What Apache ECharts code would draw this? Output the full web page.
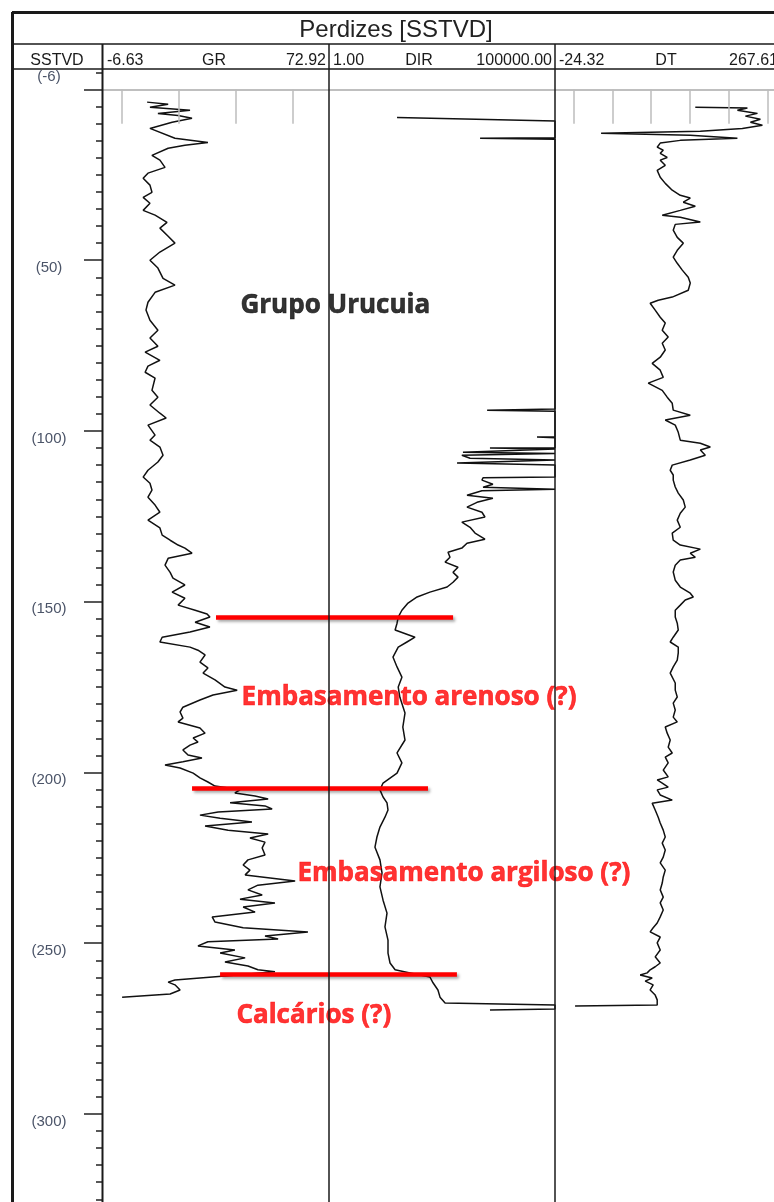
<!DOCTYPE html>
<html><head><meta charset="utf-8">
<script src="https://cdn.jsdelivr.net/npm/echarts@6/dist/echarts.min.js"></script>
<style>html,body{margin:0;padding:0;background:#fff}#c{width:774px;height:1202px}</style>
</head><body><div id="c"></div>
<script>
// ---------------- data ----------------
const depthMajorTicks = [0, 50, 100, 150, 200, 250, 300];
const depthLabels = [-6, 50, 100, 150, 200, 250, 300];
const depthMinorTicks = [-5,5,10,15,20,25,30,35,40,45,55,60,65,70,75,80,85,90,95,105,110,115,120,125,130,135,140,145,155,160,165,170,175,180,185,190,195,205,210,215,220,225,230,235,240,245,255,260,265,270,275,280,285,290,295,305,310,315,320,325];
const trackNames = ['GR', 'DIR', 'DT'];
const trackMin = [-6.63, 1, -24.32];
const trackMax = [72.92, 100000, 267.61];
const grGrid = [0, 20, 40, 60];
const dtGrid = [0, 50, 100, 150, 200, 250];

// [depth, GR]
const grLog = [[3.7,8.9],[4.3,16.3],[5.2,9.9],[6.1,24.0],[7.0,12.7],[7.6,19.8],[8.4,24.7],[9.6,17.7],[11.4,9.9],[14.3,18.7],[15.5,30.3],[16.3,22.2],[17.2,16.3],[19.3,10.6],[20.7,13.4],[22.8,15.2],[24.5,9.2],[26.0,7.5],[28.0,9.9],[30.1,10.6],[31.6,7.5],[33.3,9.9],[35.4,7.5],[36.8,11.7],[38.9,15.9],[40.6,13.4],[43.0,16.3],[45.0,18.7],[47.6,13.4],[50.0,9.9],[52.3,12.7],[55.3,14.5],[57.3,18.7],[59.4,11.7],[62.3,9.2],[64.6,8.5],[67.6,9.9],[70.5,12.7],[72.8,9.9],[75.2,12.7],[76.9,8.2],[79.3,13.4],[81.0,9.2],[82.8,8.2],[84.5,11.7],
[88.1,10.6],[90.1,12.7],[92.4,9.9],[94.8,13.4],[96.2,15.6],[98.3,9.2],[101.2,11.7],[102.7,9.9],[104.7,13.4],[107.1,14.5],[109.1,12.7],[111.5,9.2],[113.5,7.5],[115.3,9.9],[117.3,10.6],[119.4,9.2],[121.7,11.7],[123.8,13.4],[126.1,9.2],[128.4,13.4],[130.5,14.2],[132.0,17.0],[133.4,19.8],[134.3,22.2],[135.8,24.7],[137.3,16.3],[139.3,15.2],[141.4,17.0],[143.1,18.0],[145.1,22.2],[147.2,17.7],[149.0,22.2],[151.0,19.8],[152.5,25.8],[153.6,30.0],[154.5,31.0],[156.0,25.8],[157.4,31.0],[158.9,24.0],[160.4,14.2],[161.8,13.4],[163.3,24.0],[164.2,26.8],[165.6,29.3],[167.7,27.5],[169.4,30.3],[170.9,28.6],[172.9,32.8],[175.0,36.3],[175.9,40.6],
[177.3,32.1],[178.8,27.5],[180.9,21.5],[182.3,20.5],[184.1,21.5],[185.2,19.8],[187.0,27.5],[188.5,29.3],[189.9,25.1],[191.1,26.8],[192.0,24.0],[193.4,21.5],[194.9,23.3],[195.8,28.2],[196.9,21.5],[197.8,15.2],[198.7,20.5],[200.2,25.1],[201.6,27.5],[202.8,30.3],[204.0,32.8],[205.1,41.6],[206.0,39.8],[206.9,46.9],[207.8,51.5],[208.9,38.1],[209.8,50.4],[210.7,52.9],[211.6,33.9],[212.5,27.5],[213.4,34.6],[214.5,45.8],[215.7,29.3],[216.9,37.4],[218.0,51.5],[219.2,45.1],[220.4,50.4],[222.1,49.4],[224.2,50.4],[225.6,44.4],[227.1,42.7],[228.6,45.1],[230.0,43.4],[230.9,52.2],[231.8,61.0],[233.0,47.9],[234.4,44.4],[235.9,49.4],[237.1,41.6],[238.2,53.9],[239.4,42.7],[240.9,46.9],[242.3,31.8],[243.8,32.8],[245.5,42.7],[246.7,65.5],[247.9,50.4],[248.8,55.0],[249.6,30.3],[250.8,26.8],[252.0,39.8],[252.9,34.6],[254.3,43.4],[255.5,36.3],[256.7,44.4],[257.8,47.9],[258.4,53.9],[259.6,36.3],[260.8,18.7],[261.4,16.3],[262.2,18.7],[263.7,20.5],[264.9,17.0],[265.8,0.1]];

// [depth, DIR]
const dirLog = [[8.2,32],[9.2,100000],[14.1,100000],[14.3,2200],[14.6,100000],[93.6,100000],[93.9,3150],[94.2,100000],[101.7,100000],[101.8,40000],[102.0,100000],[104.9,100000],[105.0,3640],[105.3,100000],[106.2,920],[106.6,100000],[107.1,870],[108.0,1320],[108.5,100000],[109.4,680],[110.0,100000],[113.5,100000],[113.7,2560],[114.4,2420],[115.6,4230],[116.5,2560],[117.1,100000],[117.5,2420],[118.8,1130],[119.7,4230],[120.9,1880],[122.3,1130],[123.8,2420],[125.2,2820],[126.7,870],[128.2,1320],[129.9,1700],[131.7,2820],[132.9,1130],[134.3,870],[135.5,430],[137.0,475],[138.4,370],[139.9,715],[141.4,555],[142.8,715],[144.3,555],[145.7,410],[147.2,171],[148.6,89],[150.4,56],[152.5,41],[154.5,34],[156.3,32],[158.3,29],[160.4,80],[161.8,53],[163.3,34],[166.2,26],[169.1,32],[172.1,41],[175.0,34],[178.0,37],[182.6,48],[186.7,43],[190.5,48],[194.3,32],[197.2,41],[200.2,32],[203.1,15.7],[205.1,13.4],[207.2,15.7],[208.9,19.2],[211.0,20.2],[213.1,17.3],[216.0,13.4],[218.9,11.5],[221.9,10.4],[225.6,13.4],[229.4,14.9],[233.5,13.4],[237.4,15.7],[241.2,19.2],[245.2,17.3],[249.1,20.2],[252.9,20.2],[255.8,22.4],[257.8,29],[258.7,62],[259.9,171],[261.6,200],[263.7,257],[265.8,286],[267.5,370],[268.1,100000],[269.3,100000],[269.6,3640]];

// [depth, DT]
const dtLog = [[5.2,156.9],[5.4,224.2],[6.1,211.3],[7.0,237.2],[7.8,221.6],[8.7,241.0],[9.6,228.1],[10.5,243.6],[11.4,217.7],[12.2,163.4],[12.8,35.2],[13.4,150.4],[14.3,211.3],[14.9,137.5],[15.7,111.6],[16.9,107.7],[17.8,115.5],[18.7,111.6],[19.9,120.6],[20.7,111.6],[22.2,118.1],[23.7,107.7],[25.7,111.6],[27.5,118.1],[29.5,127.1],[31.0,137.5],[31.8,150.4],[33.0,141.4],[34.2,156.9],[35.4,137.5],[36.8,114.2],[37.4,137.5],[38.8,163.4],[39.5,131.0],[41.2,128.4],[43.3,133.6],[45.0,141.4],[47.1,133.6],[49.1,128.4],[50.9,133.6],[52.9,140.1],[55.0,147.8],[56.7,150.4],[58.8,147.8],[60.8,127.1],[61.7,109.0],[62.6,98.6],[64.6,105.1],[66.7,111.6],[68.4,118.1],[70.5,114.2],[72.5,121.9],[74.3,114.2],[76.3,118.1],[78.4,111.6],[80.2,101.2],[82.2,111.6],[84.3,115.5],[86.0,96.1],[88.1,114.2],[90.1,120.6],[91.9,127.1],[93.9,128.4],[95.4,150.4],[96.8,118.1],[98.3,131.0],[100.4,134.9],[102.7,137.5],[103.6,163.4],[104.7,176.3],[105.6,163.4],[107.1,169.8],[108.5,150.4],[110.0,127.1],[111.5,124.5],[112.9,128.4],[114.4,128.4],[116.4,131.0],[118.2,134.9],[120.2,141.4],[122.3,143.9],[124.1,137.5],[126.1,133.6],[128.2,137.5],[129.9,127.1],[132.0,128.4],[133.4,137.5],[134.6,163.4],[135.8,150.4],[137.0,156.9],[137.8,137.5],[139.3,131.0],[141.3,128.4],[143.7,131.0],[145.7,137.5],[147.5,150.4],[148.6,154.3],[149.5,143.9],[151.0,137.5],[152.5,131.0],[154.5,131.0],[156.3,133.6],[158.3,134.9],[160.4,128.4],[161.8,124.5],[163.3,134.9],[165.0,134.9],[167.1,133.6],[169.1,128.4],[170.9,124.5],[173.8,131.0],[175.9,131.0],[177.9,133.6],[179.7,128.4],[181.7,131.0],[183.8,128.4],[185.2,133.6],[186.7,118.1],[188.5,120.6],[190.5,124.5],[192.6,121.9],[194.3,127.1],[195.5,118.1],[197.2,121.9],[199.3,115.5],[201.3,121.9],[202.2,107.7],[203.1,114.2],[204.3,121.9],[205.1,107.7],[206.6,111.6],[208.1,127.1],[209.0,101.2],[211.0,105.1],[213.1,109.0],[214.8,111.6],[216.9,115.5],[218.9,118.1],[220.7,114.2],[222.7,118.1],[224.8,115.5],[226.5,111.6],[228.6,118.1],[230.6,115.5],[232.4,114.2],[234.4,111.6],[236.5,115.5],[238.2,111.6],[240.3,115.5],[242.3,111.6],[244.1,107.7],[245.5,102.5],[246.7,98.6],[248.2,111.6],[249.9,107.7],[252.0,111.6],[254.0,105.1],[255.8,111.6],[256.9,105.1],[257.8,98.6],[258.7,94.8],[259.3,85.7],[260.2,101.2],[261.1,92.2],[262.2,102.5],[263.7,98.6],[265.2,105.1],[266.6,107.7],[268.1,107.7],[268.4,1.6]];

// formation tops (depth) and their horizontal extent, in track-width units (0 = GR left edge)
const topDepth = [154.5, 204.7, 259.1];
const topFrom = [0.50, 0.394, 0.518];
const topTo = [1.549, 1.438, 1.566];

// annotations
const noteText = ['Grupo Urucuia', 'Embasamento arenoso (?)', 'Embasamento argiloso (?)', 'Calcários (?)'];
const noteDepth = [63.2, 178.2, 229.7, 271.3];
const noteX = [0.606, 0.611, 0.858, 0.588];
const noteRed = [false, true, true, true];

// ---------------- chart ----------------
const TOP = 69, H = 1132, TW = 226, L0 = 103;
const DMIN = -6, DMAX = 325.5;
const chart = echarts.init(document.getElementById('c'), null, {renderer: 'canvas', width: 774, height: 1202});

const grids = [0, 1, 2].map(i => ({left: L0 + i * TW, top: TOP, width: TW, height: H, outerBoundsMode: 'none', containLabel: false}));
grids.push({left: L0, top: TOP, width: 3 * TW, height: H, outerBoundsMode: 'none', containLabel: false});

const yBase = (g) => ({gridIndex: g, type: 'value', inverse: true, min: DMIN, max: DMAX, show: false});
const yAxes = [
  Object.assign(yBase(0), {show: true, position: 'left', offset: 0, axisLine: {show: false, onZero: false}, splitLine: {show: false},
    axisTick: {show: true, customValues: depthMinorTicks, length: 7, lineStyle: {color: '#222', width: 1.5}},
    axisLabel: {show: false}}),
  yBase(1), yBase(2), yBase(3),
  Object.assign(yBase(0), {show: true, position: 'left', offset: 0, axisLine: {show: false, onZero: false}, splitLine: {show: false},
    axisTick: {show: true, customValues: depthMajorTicks, length: 19, lineStyle: {color: '#222', width: 1.5}},
    axisLabel: {show: true, customValues: depthLabels, formatter: v => '(' + v + ')', align: 'center', verticalAlign: 'top',
      margin: 54, fontSize: 15, color: '#4b5468', fontFamily: 'Liberation Sans, Arial, sans-serif'}})
];
const xAxes = [
  {gridIndex: 0, type: 'value', min: trackMin[0], max: trackMax[0], show: false},
  {gridIndex: 1, type: 'log', logBase: 10, min: trackMin[1], max: trackMax[1], show: false},
  {gridIndex: 2, type: 'value', min: trackMin[2], max: trackMax[2], show: false},
  {gridIndex: 3, type: 'value', min: 0, max: 3, show: false}
];

const curveStyle = {color: '#111', width: 1.5};
const gridLineStyle = {color: '#bdbdbd', width: 1.5, type: 'solid'};
const zeroLine = {yAxis: 0};
const shortGrid = vals => vals.map(v => [{coord: [v, 0]}, {coord: [v, 10]}]);

function curve(name, xi, yi, log, grid) {
  return {
    name, type: 'line', xAxisIndex: xi, yAxisIndex: yi, showSymbol: false, symbol: 'none', clip: true,
    data: log.map(p => [p[1], p[0]]), lineStyle: curveStyle, z: 3, sampling: null,
    markLine: {silent: true, symbol: ['none', 'none'], label: {show: false}, animation: false,
      lineStyle: {color: '#aaaaaa', width: 1.5, type: 'solid'},
      data: [zeroLine].concat(grid ? shortGrid(grid).map(d => [Object.assign({lineStyle: gridLineStyle}, d[0]), d[1]]) : [])}
  };
}

const series = [
  curve('GR', 0, 0, grLog, grGrid),
  curve('DIR', 1, 1, dirLog, null),
  curve('DT', 2, 2, dtLog, dtGrid),
  {
    name: 'notes', type: 'scatter', xAxisIndex: 3, yAxisIndex: 3, symbolSize: 1, itemStyle: {color: 'rgba(0,0,0,0)'}, z: 6,
    data: noteText.map((t, i) => {
      const c = noteRed[i] ? '#ff0000' : '#000000';
      return {value: [noteX[i], noteDepth[i]],
        label: {show: true, position: 'right', distance: 0, formatter: t, color: c, textBorderColor: c, textBorderWidth: 0.6,
          fontSize: 26, fontWeight: 'bold', fontFamily: '"Open Sans", Lato, sans-serif'}};
    }),
    markLine: {silent: true, symbol: ['none', 'none'], label: {show: false}, animation: false, z: 5,
      lineStyle: {color: '#ff0000', width: 4.5, type: 'solid', cap: 'butt', shadowColor: 'rgba(0,0,0,0.35)', shadowBlur: 3, shadowOffsetX: 2, shadowOffsetY: 2},
      data: topDepth.map((d, i) => [{coord: [topFrom[i], d]}, {coord: [topTo[i], d]}])}
  }
];

// frame & header (layout only)
const fmt = v => v.toFixed(2);
const hdrFont = '16px "Liberation Sans", Arial, sans-serif';
const ln = (x1, y1, x2, y2, w, c) => ({type: 'line', shape: {x1, y1, x2, y2}, style: {stroke: c || '#1a1a1a', lineWidth: w}, z: 100, silent: true});
const tx = (text, x, y, align, font, fill) => ({type: 'text', x, y, style: {text, x: 0, y: 0, align, verticalAlign: 'bottom', font, fill: fill || '#1a1a1a'}, z: 100, silent: true});
const nameX = [214, 419, 666];
const graphic = [
  ln(12, 12.5, 774, 12.5, 3), ln(12.5, 12, 12.5, 1202, 3),
  ln(12, 44, 774, 44, 1.5), ln(12, 69, 774, 69, 1.5),
  ln(102.5, 44, 102.5, 1202, 2), ln(329, 44, 329, 1202, 1.5), ln(555, 44, 555, 1202, 1.5),
  {type: 'text', x: 396, y: 30, style: {text: 'Perdizes [SSTVD]', align: 'center', verticalAlign: 'middle', font: '24px "Liberation Sans", Arial, sans-serif', fill: '#222'}, z: 100},
  tx('SSTVD', 57, 69, 'center', hdrFont)
];
trackNames.forEach((n, i) => {
  const l = L0 + i * TW;
  graphic.push(tx(fmt(trackMin[i]), l + 4, 69, 'left', hdrFont));
  graphic.push(tx(fmt(trackMax[i]), l + TW - 3, 69, 'right', hdrFont));
  graphic.push(tx(n, nameX[i], 69, 'center', hdrFont));
});

chart.setOption({animation: false, backgroundColor: '#fff', grid: grids, xAxis: xAxes, yAxis: yAxes, series, graphic});
</script></body></html>
